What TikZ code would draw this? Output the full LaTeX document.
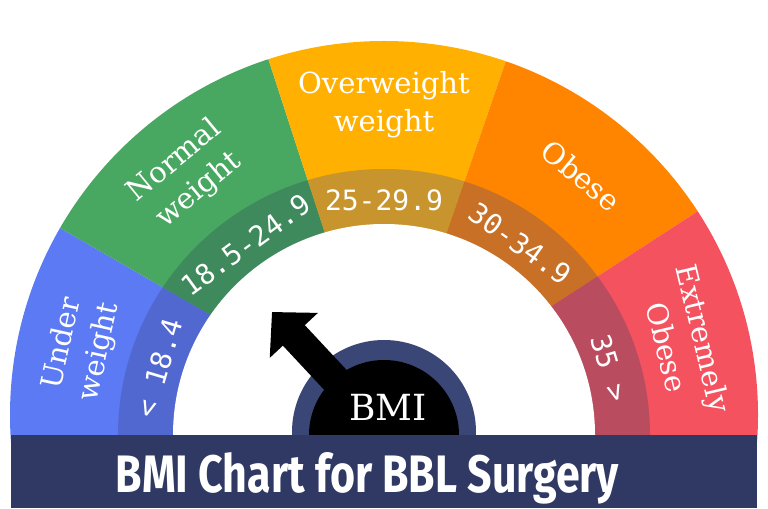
\documentclass[tikz,border=0pt]{standalone}
\usepackage{fontspec}
\setmainfont{DejaVu Serif}
\newfontfamily\numfont{DejaVu Sans Mono}
\newfontfamily\titlefont{Fira Sans}
\usetikzlibrary{arrows.meta,calc}
\definecolor{under}{RGB}{92,122,243}
\definecolor{underdk}{RGB}{80,104,208}
\definecolor{normal}{RGB}{72,168,98}
\definecolor{normaldk}{RGB}{62,138,92}
\definecolor{over}{RGB}{255,176,0}
\definecolor{overdk}{RGB}{200,148,45}
\definecolor{obese}{RGB}{255,133,0}
\definecolor{obesedk}{RGB}{200,112,38}
\definecolor{extreme}{RGB}{245,82,96}
\definecolor{extremedk}{RGB}{186,76,96}
\definecolor{navy}{RGB}{47,57,99}
\definecolor{hubring}{RGB}{58,70,118}
\begin{document}
\begin{tikzpicture}[x=0.03cm,y=0.03cm,
    zone/.style={text=white,align=center,font=\fontsize{24.8pt}{32.4pt}\selectfont},
    rangelbl/.style={text=white,font=\numfont\fontsize{23.9pt}{26pt}\selectfont}]
  \useasboundingbox[fill=white] (0,0) rectangle (768,508);
  \coordinate (O) at (384,93);
  \coordinate (C) at (384,73);
  \begin{scope}
    \clip (O) circle (374);
    % outer colour bands
    \foreach \col/\a/\b in {under/190/150,normal/150/108,over/108/71,obese/71/33,extreme/33/-10}{
      \fill[\col] (O) -- ++(\a:500) arc[start angle=\a,end angle=\b,radius=500] -- cycle;
    }
    \clip (C) circle (266);
    % darker inner ring
    \foreach \col/\a/\b in {underdk/190/150,normaldk/150/108,overdk/108/71,obesedk/71/33,extremedk/33/-10}{
      \fill[\col] (O) -- ++(\a:500) arc[start angle=\a,end angle=\b,radius=500] -- cycle;
    }
  \end{scope}
  \fill[white] (C) circle (211);
  % pointer hub
  \coordinate (hub) at (384,76);
  \coordinate (tip) at (272,196);
  \begin{scope}
    \clip (0,73) rectangle (768,508);
    \fill[hubring] (hub) circle (92);
    \fill[black] (C) circle (75);
  \end{scope}
  \draw[black,line width=0.9cm,-{Triangle[width=1.92cm,length=0.96cm]}] (hub) -- (tip);
  \node[text=white,font=\fontsize{30.7pt}{32pt}\selectfont] (bmi) at (388,101) {BMI};
  % title bar
  \fill[navy] (11,0) rectangle (757,73);
  \node[anchor=base west,inner sep=0pt,text=white] (title) at (115.5,16)
    {\resizebox{15.1cm}{1.2cm}{\titlefont\bfseries BMI Chart for BBL Surgery}};
  % category names
  \foreach \ang/\txt [count=\i] in {167.5/Under\\weight,129.5/Normal\\weight,90/Overweight\\weight,50.5/Obese,13.5/Extremely\\Obese}{
    \node[zone,rotate=\ang-90] (zone\i) at ($(O)+(\ang:310)$) {\txt};
  }
  % BMI ranges
  \foreach \ang/\txt [count=\i] in {163.5/{< 18.4},126/18.5-24.9,90/25-29.9,54.5/30-34.9,16.5/{35 >}}{
    \node[rangelbl,rotate=\ang-90] (range\i) at ($(C)+(\ang:235)$) {\txt};
  }
\end{tikzpicture}
\end{document}
